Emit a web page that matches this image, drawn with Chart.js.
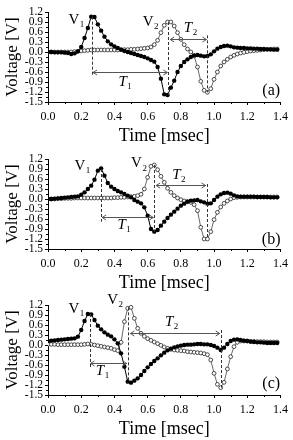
<!DOCTYPE html>
<html>
<head>
<meta charset="utf-8">
<script src="https://cdn.jsdelivr.net/npm/chart.js@4.4.1/dist/chart.umd.min.js"></script>
<style>
  body { margin: 0; background: #fff; }
  .panel { position: absolute; left: 0; }
  canvas { display: block; }
</style>
</head>
<body>
<div class="panel" style="top:0px"><canvas id="chartA" width="293" height="147"></canvas></div>
<div class="panel" style="top:147px"><canvas id="chartB" width="293" height="147"></canvas></div>
<div class="panel" style="top:293px"><canvas id="chartC" width="293" height="147"></canvas></div>
<script>
// time axis (msec), common to every trace
const times = [
  0.00, 0.02, 0.04, 0.06, 0.08, 0.10, 0.12, 0.14, 0.16, 0.18,
  0.20, 0.22, 0.24, 0.26, 0.28, 0.30, 0.32, 0.34, 0.36, 0.38,
  0.40, 0.42, 0.44, 0.46, 0.48, 0.50, 0.52, 0.54, 0.56, 0.58,
  0.60, 0.62, 0.64, 0.66, 0.68, 0.70, 0.72, 0.74, 0.76, 0.78,
  0.80, 0.82, 0.84, 0.86, 0.88, 0.90, 0.92, 0.94, 0.96, 0.98,
  1.00, 1.02, 1.04, 1.06, 1.08, 1.10, 1.12, 1.14, 1.16, 1.18,
  1.20, 1.22, 1.24, 1.26, 1.28, 1.30, 1.32, 1.34, 1.36, 1.38
];

// (a) voltages [V]
const filledA = [
  0.00, 0.00, -0.01, -0.01, -0.01, -0.02, -0.03, -0.06, -0.04, 0.02,
  0.15, 0.42, 0.72, 1.06, 1.05, 0.83, 0.64, 0.46, 0.32, 0.23,
  0.17, 0.12, 0.07, 0.03, 0.00, -0.03, -0.06, -0.09, -0.12, -0.15,
  -0.19, -0.24, -0.29, -0.45, -0.80, -1.27, -1.29, -1.07, -0.86, -0.60,
  -0.42, -0.30, -0.22, -0.15, -0.10, -0.09, -0.11, -0.13, -0.12, -0.07,
  0.02, 0.10, 0.15, 0.18, 0.19, 0.17, 0.14, 0.13, 0.12, 0.12,
  0.11, 0.11, 0.10, 0.10, 0.09, 0.09, 0.08, 0.08, 0.07, 0.07
];
const openA = [
  0.00, 0.00, 0.00, 0.00, 0.00, 0.00, 0.00, 0.00, 0.01, 0.02,
  0.03, 0.04, 0.05, 0.06, 0.06, 0.06, 0.06, 0.06, 0.06, 0.06,
  0.06, 0.06, 0.07, 0.07, 0.07, 0.08, 0.08, 0.09, 0.10, 0.11,
  0.12, 0.15, 0.22, 0.35, 0.58, 0.80, 0.90, 0.90, 0.78, 0.58,
  0.38, 0.22, 0.09, 0.00, -0.12, -0.45, -0.88, -1.15, -1.21, -1.10,
  -0.82, -0.60, -0.42, -0.30, -0.22, -0.15, -0.10, -0.06, -0.03, -0.01,
  0.01, 0.03, 0.04, 0.05, 0.06, 0.07, 0.08, 0.08, 0.09, 0.09
];

// (b)
const filledB = [
  0.00, 0.00, 0.01, 0.02, 0.03, 0.04, 0.05, 0.06, 0.07, 0.08,
  0.13, 0.20, 0.30, 0.40, 0.58, 0.85, 0.92, 0.70, 0.48, 0.37,
  0.30, 0.24, 0.20, 0.15, 0.10, 0.05, -0.03, -0.08, -0.13, -0.25,
  -0.50, -0.90, -0.98, -0.93, -0.80, -0.68, -0.57, -0.47, -0.38, -0.29,
  -0.20, -0.14, -0.08, -0.05, -0.04, -0.03, -0.07, -0.10, -0.14, -0.13,
  -0.03, 0.07, 0.14, 0.18, 0.19, 0.16, 0.11, 0.08, 0.07, 0.07,
  0.07, 0.07, 0.07, 0.06, 0.06, 0.06, 0.06, 0.05, 0.05, 0.05
];
const openB = [
  0.00, 0.00, 0.00, 0.01, 0.01, 0.02, 0.02, 0.02, 0.03, 0.03,
  0.03, 0.03, 0.03, 0.03, 0.03, 0.03, 0.03, 0.03, 0.03, 0.03,
  0.04, 0.04, 0.05, 0.05, 0.06, 0.07, 0.08, 0.10, 0.14, 0.30,
  0.65, 0.98, 1.02, 0.88, 0.68, 0.50, 0.32, 0.20, 0.10, 0.03,
  -0.02, -0.06, -0.08, -0.10, -0.17, -0.35, -0.85, -1.20, -1.20, -0.98,
  -0.62, -0.40, -0.24, -0.13, -0.06, 0.00, 0.04, 0.05, 0.06, 0.06,
  0.06, 0.06, 0.06, 0.06, 0.06, 0.06, 0.06, 0.06, 0.06, 0.06
];

// (c)
const filledC = [
  0.12, 0.13, 0.14, 0.15, 0.16, 0.17, 0.18, 0.19, 0.20, 0.25,
  0.45, 0.72, 0.93, 0.92, 0.75, 0.58, 0.47, 0.38, 0.31, 0.26,
  0.17, 0.05, -0.25, -0.65, -1.10, -1.13, -1.07, -1.00, -0.90, -0.78,
  -0.67, -0.57, -0.48, -0.40, -0.31, -0.23, -0.16, -0.11, -0.07, -0.04,
  -0.02, 0.00, 0.01, 0.01, 0.02, 0.03, 0.03, 0.02, 0.02, 0.00,
  -0.03, -0.08, -0.15, -0.08, 0.03, 0.12, 0.16, 0.17, 0.15, 0.13,
  0.12, 0.10, 0.09, 0.08, 0.08, 0.07, 0.06, 0.06, 0.06, 0.06
];
const openC = [
  0.02, 0.02, 0.02, 0.01, 0.01, 0.01, 0.01, 0.01, 0.01, 0.01,
  0.01, 0.02, 0.03, 0.02, 0.00, -0.02, -0.04, -0.06, -0.08, -0.10,
  -0.14, -0.17, 0.08, 0.70, 1.10, 1.13, 0.80, 0.50, 0.35, 0.26,
  0.19, 0.14, 0.09, 0.04, -0.01, -0.06, -0.10, -0.13, -0.15, -0.16,
  -0.17, -0.18, -0.20, -0.21, -0.22, -0.23, -0.24, -0.26, -0.29, -0.45,
  -0.85, -1.18, -1.28, -1.12, -0.72, -0.35, -0.05, 0.08, 0.12, 0.12,
  0.12, 0.11, 0.11, 0.10, 0.10, 0.10, 0.09, 0.09, 0.09, 0.09
];

// y axis tick values
const voltTicks = [1.2, 0.9, 0.6, 0.3, 0.0, -0.3, -0.6, -0.9, -1.2, -1.5];

// dashed markers: [time, from V, to V]
const dashesA = [[0.265, 1.06, -0.72], [0.725, 0.90, -1.29], [0.96, 0.50, -1.21]];
const dashesB = [[0.32, 0.90, -0.68], [0.64, 1.02, -0.98], [0.955, 0.45, -1.20]];
const dashesC = [[0.25, 0.93, -0.70], [0.48, 1.13, -1.10], [1.04, 0.45, -1.28]];
// double arrows: [from time, to time, V]
const arrowsA = [[0.265, 0.725, -0.60], [0.73, 0.96, 0.40]];
const arrowsB = [[0.32, 0.64, -0.53], [0.645, 0.955, 0.42]];
const arrowsC = [[0.25, 0.48, -0.55], [0.49, 1.04, 0.37]];
// labels: [text, subscript, time, V]
const labelsA = [["V", "1", 0.156, 0.97], ["V", "2", 0.603, 0.90], ["T", "1", 0.449, -0.89], ["T", "2", 0.843, 0.73], ["(a)", "", 1.344, -1.16]];
const labelsB = [["V", "1", 0.192, 0.99], ["V", "2", 0.533, 1.07], ["T", "1", 0.443, -0.78], ["T", "2", 0.773, 0.72], ["(b)", "", 1.344, -1.22]];
const labelsC = [["V", "1", 0.156, 1.08], ["V", "2", 0.389, 1.36], ["T", "1", 0.313, -0.78], ["T", "2", 0.729, 0.70], ["(c)", "", 1.344, -1.15]];

const serif = '"Liberation Serif", "Times New Roman", serif';
Chart.defaults.font.family = serif;
Chart.defaults.color = "#000";

// draws minor ticks, the dashed lines, arrows and letters on top of the traces
function notesPlugin(dashes, arrows, labels) {
    return {
        id: "notes",
        afterDatasetsDraw(chart) {
            const ctx = chart.ctx;
            const x = chart.scales.x;
            const y = chart.scales.y;
            ctx.save();
            ctx.lineWidth = 1;
            // minor ticks halfway between the labelled ones
            ctx.strokeStyle = "#000";
            ctx.beginPath();
            for (let i = 0; i < x.ticks.length - 1; i++) {
                const px = Math.round((x.getPixelForValue(x.ticks[i].value) + x.getPixelForValue(x.ticks[i + 1].value)) / 2) + 0.5;
                ctx.moveTo(px, x.top);
                ctx.lineTo(px, x.top + 2);
            }
            for (let i = 0; i < y.ticks.length - 1; i++) {
                const py = Math.round((y.getPixelForValue(y.ticks[i].value) + y.getPixelForValue(y.ticks[i + 1].value)) / 2) + 0.5;
                ctx.moveTo(y.right, py);
                ctx.lineTo(y.right - 2, py);
            }
            ctx.stroke();

            ctx.strokeStyle = "#333";
            ctx.setLineDash([3, 2]);
            dashes.forEach(d => {
                const px = Math.round(x.getPixelForValue(d[0])) + 0.5;
                ctx.beginPath();
                ctx.moveTo(px, y.getPixelForValue(d[1]));
                ctx.lineTo(px, y.getPixelForValue(d[2]));
                ctx.stroke();
            });
            ctx.setLineDash([]);
            ctx.strokeStyle = "#555";
            arrows.forEach(a => {
                const x0 = x.getPixelForValue(a[0]) + 1;
                const x1 = x.getPixelForValue(a[1]) - 1;
                const py = Math.round(y.getPixelForValue(a[2])) + 0.5;
                ctx.beginPath();
                ctx.moveTo(x0, py);
                ctx.lineTo(x1, py);
                // heads
                ctx.moveTo(x0 + 4, py - 2.5);
                ctx.lineTo(x0, py);
                ctx.lineTo(x0 + 4, py + 2.5);
                ctx.moveTo(x1 - 4, py - 2.5);
                ctx.lineTo(x1, py);
                ctx.lineTo(x1 - 4, py + 2.5);
                ctx.stroke();
            });
            ctx.fillStyle = "#000";
            ctx.textBaseline = "middle";
            labels.forEach(l => {
                const px = x.getPixelForValue(l[2]);
                const py = y.getPixelForValue(l[3]);
                const big = l[0].length > 1;
                ctx.font = (l[0] === "T" ? "italic " : "") + (big ? "16px " : "15px ") + serif;
                ctx.textAlign = "center";
                ctx.fillText(l[0], px, py);
                if (l[1]) {
                    const w = ctx.measureText(l[0]).width;
                    ctx.font = "9px " + serif;
                    ctx.textAlign = "left";
                    ctx.fillText(l[1], px + w / 2 + 0.5, py + 5);
                }
            });
            ctx.restore();
        }
    };
}

function makePanel(id, filled, open, dashes, arrows, labels) {
    const filledPts = times.map((t, i) => ({ x: t, y: filled[i] }));
    const openPts = times.map((t, i) => ({ x: t, y: open[i] }));
    return new Chart(document.getElementById(id), {
        type: "line",
        data: {
            datasets: [{
                data: filledPts,
                borderColor: "#000",
                borderWidth: 1,
                pointRadius: 2.2,
                pointBackgroundColor: "#000",
                pointBorderColor: "#000",
                pointBorderWidth: 0,
                order: 0,
            }, {
                data: openPts,
                borderColor: "#444",
                borderWidth: 0.8,
                pointRadius: 1.9,
                pointBackgroundColor: "#fff",
                pointBorderColor: "#222",
                pointBorderWidth: 0.8,
                order: 1,
            }],
        },
        options: {
            responsive: false,
            animation: false,
            devicePixelRatio: 1,
            layout: {
                padding: { left: 2, right: 12, top: 12, bottom: 0 }
            },
            plugins: {
                legend: { display: false },
                tooltip: { enabled: false },
            },
            elements: {
                line: { tension: 0 }
            },
            scales: {
                x: {
                    type: "linear",
                    min: 0,
                    max: 1.4,
                    grid: { drawOnChartArea: false, tickLength: 3, color: "#000" },
                    border: { display: true, color: "#000", width: 1 },
                    ticks: {
                        stepSize: 0.2,
                        padding: 5,
                        autoSkip: false,
                        maxRotation: 0,
                        font: { size: 12 },
                        callback: v => v.toFixed(1),
                    },
                    title: {
                        display: true,
                        text: "Time [msec]",
                        font: { size: 18 },
                        padding: { top: 0, bottom: 0 },
                    },
                    afterFit: s => { s.height = 45; },
                },
                y: {
                    min: voltTicks[voltTicks.length - 1],
                    max: voltTicks[0],
                    grid: { drawOnChartArea: false, tickLength: 3, color: "#000" },
                    border: { display: true, color: "#000", width: 1 },
                    afterBuildTicks: s => { s.ticks = voltTicks.map(v => ({ value: v })); },
                    ticks: {
                        padding: 2,
                        autoSkip: false,
                        font: { size: 11.5 },
                        callback: v => v.toFixed(1),
                    },
                    title: {
                        display: true,
                        text: "Voltage [V]",
                        font: { size: 17 },
                        padding: { top: 0, bottom: 0 },
                    },
                    afterFit: s => { s.width = 46; },
                },
            },
        },
        plugins: [notesPlugin(dashes, arrows, labels)],
    });
}

makePanel("chartA", filledA, openA, dashesA, arrowsA, labelsA);
makePanel("chartB", filledB, openB, dashesB, arrowsB, labelsB);
makePanel("chartC", filledC, openC, dashesC, arrowsC, labelsC);
</script>
</body>
</html>
